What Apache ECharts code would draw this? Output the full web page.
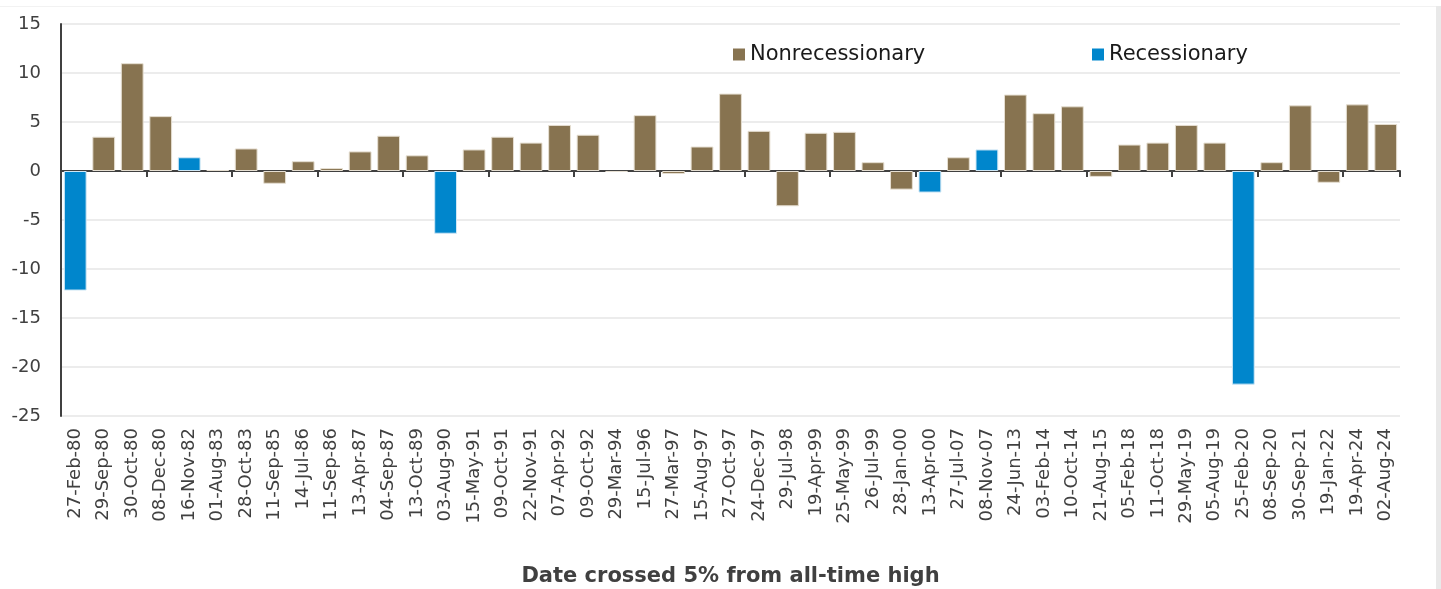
<!DOCTYPE html>
<html>
<head>
<meta charset="utf-8">
<script src="https://cdn.jsdelivr.net/npm/echarts@6/dist/echarts.min.js"></script>
<style>
html,body{margin:0;padding:0;background:#fff;}
#c{width:1441px;height:589px;}
</style>
</head>
<body>
<div id="c"></div>
<script>
const categories = ['27-Feb-80','29-Sep-80','30-Oct-80','08-Dec-80','16-Nov-82','01-Aug-83','28-Oct-83','11-Sep-85','14-Jul-86','11-Sep-86','13-Apr-87','04-Sep-87','13-Oct-89','03-Aug-90','15-May-91','09-Oct-91','22-Nov-91','07-Apr-92','09-Oct-92','29-Mar-94','15-Jul-96','27-Mar-97','15-Aug-97','27-Oct-97','24-Dec-97','29-Jul-98','19-Apr-99','25-May-99','26-Jul-99','28-Jan-00','13-Apr-00','27-Jul-07','08-Nov-07','24-Jun-13','03-Feb-14','10-Oct-14','21-Aug-15','05-Feb-18','11-Oct-18','29-May-19','05-Aug-19','25-Feb-20','08-Sep-20','30-Sep-21','19-Jan-22','19-Apr-24','02-Aug-24'];
const values = [-12.2,3.5,11.0,5.6,1.4,0.1,2.3,-1.3,1.0,0.3,2.0,3.6,1.6,-6.4,2.2,3.5,2.9,4.7,3.7,-0.1,5.7,-0.3,2.5,7.9,4.1,-3.6,3.9,4.0,0.9,-1.9,-2.2,1.4,2.2,7.8,5.9,6.6,-0.6,2.7,2.9,4.7,2.9,-21.8,0.9,6.7,-1.2,6.8,4.8];
const recessionary = ['27-Feb-80','16-Nov-82','03-Aug-90','13-Apr-00','08-Nov-07','25-Feb-20'];
const yTicks = {min:-25, max:15, interval:5};
const seriesNames = ['Nonrecessionary','Recessionary'];
const axisTitle = 'Date crossed 5% from all-time high';

const nonRec = categories.map((c,i)=> recessionary.includes(c) ? '-' : values[i]);
const rec = categories.map((c,i)=> recessionary.includes(c) ? values[i] : '-');

const FONT = 'DejaVu Sans';
const chart = echarts.init(document.getElementById('c'));
chart.setOption({
  animation:false,
  textStyle:{fontFamily:FONT},
  graphic:[
    {type:'rect', shape:{x:0,y:6,width:1437,height:1}, style:{fill:'#f2f2f2'}, silent:true},
    {type:'rect', shape:{x:1436,y:6,width:5,height:583}, style:{fill:'#e9e9e9'}, silent:true}
  ],
  legend:[
    {data:[seriesNames[0]], left:733, top:44, padding:0, icon:'rect', itemWidth:12, itemHeight:12, itemGap:0,
     itemStyle:{borderWidth:0},
     textStyle:{fontFamily:FONT, fontSize:21, color:'#1a1a1a'}},
    {data:[seriesNames[1]], left:1092, top:44, padding:0, icon:'rect', itemWidth:12, itemHeight:12, itemGap:0,
     itemStyle:{borderWidth:0},
     textStyle:{fontFamily:FONT, fontSize:21, color:'#1a1a1a'}}
  ],
  grid:{left:61, right:41, top:24, bottom:173, containLabel:false, outerBoundsMode:'none'},
  xAxis:[
    {type:'category', data:categories, position:'bottom',
     axisLine:{onZero:true, lineStyle:{color:'#404040', width:2}},
     axisTick:{show:true, length:6, lineStyle:{color:'#404040', width:2}},
     axisLabel:{show:false}, splitLine:{show:false}},
    {type:'category', data:categories, position:'bottom', gridIndex:0,
     axisLine:{show:false, onZero:false}, axisTick:{show:false},
     axisLabel:{show:true, rotate:90, interval:0, margin:12, fontFamily:FONT, fontSize:18, color:'#404040'},
     name:axisTitle, nameLocation:'middle', nameGap:150,
     nameTextStyle:{fontFamily:FONT, fontSize:21, fontWeight:'bold', color:'#404040'}}
  ],
  yAxis:{type:'value', min:yTicks.min, max:yTicks.max, interval:yTicks.interval,
    axisLine:{show:true, lineStyle:{color:'#404040', width:2}},
    axisTick:{show:false},
    axisLabel:{fontFamily:FONT, fontSize:18, color:'#404040', margin:20},
    splitLine:{lineStyle:{color:'#ececec', width:2}}},
  series:[
    {name:seriesNames[0], type:'bar', stack:'s', data:nonRec, barCategoryGap:'20%',
     itemStyle:{color:'#877350', borderColor:'#e6dfd2', borderWidth:1}},
    {name:seriesNames[1], type:'bar', stack:'s', data:rec, barCategoryGap:'20%',
     itemStyle:{color:'#0086CC', borderColor:'#cfe7f5', borderWidth:1}}
  ]
});
</script>
</body>
</html>
